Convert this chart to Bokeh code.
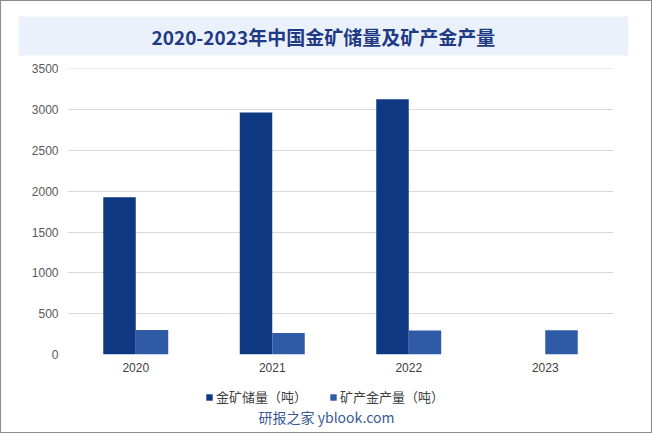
from bokeh.plotting import figure
from bokeh.models import (FactorRange, Range1d, FixedTicker, Legend, LegendItem,
                          Title, Label, ColumnDataSource)
from bokeh.layouts import column
from bokeh.transform import dodge
from bokeh.embed import file_html
from bokeh.resources import INLINE

years = ["2020", "2021", "2022", "2023"]
reserves = [1927.37, 2964.37, 3127.46, None]
production = [301.69, 263.06, 295.42, 297.26]
y_ticks = [0, 500, 1000, 1500, 2000, 2500, 3000, 3500]
title_text = "2020-2023年中国金矿储量及矿产金产量"
series_names = ["金矿储量（吨）", "矿产金产量（吨）"]
watermark = "研报之家 yblook.com"
colors = ["#0E3882", "#2F5AA6"]

src = ColumnDataSource(dict(
    year=years,
    reserves=[float("nan") if v is None else v for v in reserves],
    production=production,
))

W = 650                  # plus 1px CSS border on each side -> 652 wide
H1, H2 = 381, 50         # 381 + 50 + 2 border = 433
L, R, T, B = 66, 38, 67, 28

x_range = FactorRange(*years)
p = figure(width=W, height=H1, x_range=x_range, y_range=Range1d(0, 3504),
           output_backend="svg", toolbar_location=None,
           min_border_left=L, min_border_right=R, min_border_top=T, min_border_bottom=B)
p.outline_line_color = None
p.background_fill_color = "white"
p.border_fill_color = "white"

bw = 0.238
p.vbar(x=dodge("year", -bw / 2, range=x_range), top="reserves", width=bw,
       source=src, fill_color=colors[0], line_color=None)
p.vbar(x=dodge("year", bw / 2, range=x_range), top="production", width=bw,
       source=src, fill_color=colors[1], line_color=None)

p.xgrid.grid_line_color = None
p.ygrid.grid_line_color = "#D9D9D9"
p.ygrid.grid_line_width = 1

p.yaxis.ticker = FixedTicker(ticks=y_ticks)
for ax in (p.xaxis, p.yaxis):
    ax.axis_line_color = None
    ax.major_tick_line_color = None
    ax.minor_tick_line_color = None
    ax.major_tick_out = 0
    ax.major_tick_in = 0
    ax.major_label_text_font = "Liberation Sans"
    ax.major_label_text_font_size = "12px"
    ax.major_label_text_color = "#595959"
p.yaxis.major_label_standoff = 9
p.xaxis.major_label_standoff = 8
p.xaxis.major_label_text_color = "#404040"

# title (above panel)
p.title = Title(text=title_text, align="left", offset=-49, text_font="Noto Sans CJK SC",
                text_font_style="bold", text_font_size="19px", text_color="#1F3A85",
                background_fill_color="#EAF1FB", padding=(133, 6), standoff=26)

# legend + watermark strip (its frame is aligned with the chart frame above)
p2 = figure(width=W, height=H2, x_range=x_range, y_range=Range1d(5000, 6000),
            output_backend="svg", toolbar_location=None,
            min_border_left=0, min_border_right=0, min_border_top=0, min_border_bottom=0)
p2.axis.visible = False
p2.grid.grid_line_color = None
p2.outline_line_color = None
p2.background_fill_color = "white"
p2.border_fill_color = "white"

# same series, drawn out of this strip's view: only their legend swatches show
s1 = p2.vbar(x=dodge("year", -bw / 2, range=x_range), top="reserves", width=bw,
             source=src, fill_color=colors[0], line_color=None)
s2 = p2.vbar(x=dodge("year", bw / 2, range=x_range), top="production", width=bw,
             source=src, fill_color=colors[1], line_color=None)

legend = Legend(items=[LegendItem(label=series_names[0], renderers=[s1], index=0),
                       LegendItem(label=series_names[1], renderers=[s2], index=0)],
                orientation="horizontal", location=(204 - L, 26),
                label_text_font="Noto Sans CJK SC", label_text_font_size="13px",
                label_text_color="#404040", glyph_width=8, glyph_height=8,
                spacing=22, label_standoff=3, padding=2, margin=0,
                border_line_color=None, background_fill_alpha=0)
p2.add_layout(legend)

wm = Label(x=325 - L, y=16, x_units="screen", y_units="screen", text=watermark,
           text_align="center", text_baseline="middle", text_font="Noto Sans CJK SC",
           text_font_size="14px", text_color="#3A5A96")
p2.add_layout(wm)

page = column(p, p2, spacing=0, styles={"border": "1px solid #8c8c8c"})

open("out.html", "w").write(file_html(page, INLINE))
